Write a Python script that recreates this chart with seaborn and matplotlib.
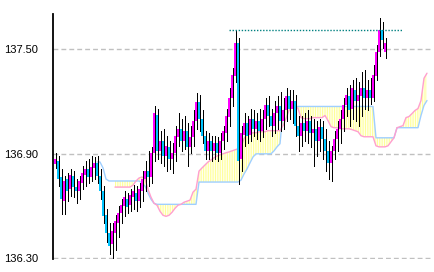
import numpy as np
import pandas as pd
import matplotlib
matplotlib.use("Agg")
import matplotlib.pyplot as plt
import seaborn as sns

# ---------------- data ----------------
opens = [136.842, 136.859, 136.767, 136.628, 136.755, 136.697, 136.772, 136.709, 136.686, 136.732,
         136.778, 136.813, 136.767, 136.819, 136.848, 136.772, 136.686, 136.547, 136.443, 136.385,
         136.443, 136.501, 136.558, 136.599, 136.639, 136.605, 136.651, 136.674, 136.628, 136.686,
         136.755, 136.801, 136.767, 136.906, 137.125, 136.917, 136.975, 136.888, 136.940, 136.871,
         136.906, 136.998, 137.044, 136.975, 137.033, 136.940, 136.998, 137.091, 137.195, 137.102,
         137.004, 136.917, 136.975, 136.917, 136.963, 136.906, 136.975, 137.021, 137.114, 137.218,
         137.345, 137.536, 136.871, 137.010, 137.079, 137.010, 137.102, 137.044, 137.091, 137.033,
         137.102, 137.183, 137.120, 137.062, 137.137, 137.172, 137.091, 137.149, 137.230, 137.160,
         137.206, 137.062, 137.004, 137.079, 137.033, 137.091, 137.021, 137.044, 136.975, 137.056,
         136.987, 136.917, 136.848, 136.917, 136.987, 137.044, 137.102, 137.178, 137.230, 137.160,
         137.264, 137.206, 137.230, 137.276, 137.218, 137.264, 137.218, 137.345, 137.484, 137.611,
         137.484]
highs = [136.906, 136.888, 136.813, 136.772, 136.790, 136.813, 136.801, 136.755, 136.772, 136.830,
         136.859, 136.871, 136.888, 136.882, 136.888, 136.813, 136.715, 136.582, 136.501, 136.501,
         136.547, 136.599, 136.639, 136.686, 136.674, 136.697, 136.720, 136.715, 136.732, 136.801,
         136.859, 136.917, 136.940, 137.172, 137.160, 137.033, 137.044, 137.004, 136.975, 136.963,
         137.062, 137.137, 137.102, 137.120, 137.079, 137.062, 137.149, 137.247, 137.235, 137.149,
         137.033, 137.021, 137.004, 137.004, 136.998, 137.021, 137.062, 137.160, 137.276, 137.392,
         137.611, 137.565, 137.062, 137.137, 137.120, 137.160, 137.149, 137.137, 137.160, 137.149,
         137.218, 137.230, 137.160, 137.206, 137.230, 137.253, 137.218, 137.276, 137.264, 137.264,
         137.235, 137.120, 137.120, 137.137, 137.149, 137.120, 137.102, 137.091, 137.102, 137.091,
         137.044, 136.975, 136.946, 137.033, 137.091, 137.149, 137.218, 137.276, 137.293, 137.322,
         137.334, 137.311, 137.368, 137.380, 137.322, 137.334, 137.409, 137.525, 137.681, 137.658,
         137.565]
lows = [136.819, 136.715, 136.553, 136.553, 136.628, 136.657, 136.651, 136.616, 136.639, 136.697,
        136.715, 136.732, 136.744, 136.755, 136.732, 136.639, 136.501, 136.396, 136.327, 136.304,
        136.350, 136.425, 136.501, 136.541, 136.558, 136.570, 136.582, 136.570, 136.593, 136.628,
        136.686, 136.715, 136.732, 136.859, 136.871, 136.848, 136.830, 136.801, 136.813, 136.790,
        136.859, 136.946, 136.917, 136.929, 136.830, 136.906, 136.946, 137.044, 137.033, 136.963,
        136.871, 136.871, 136.859, 136.871, 136.859, 136.871, 136.929, 136.975, 137.062, 137.172,
        137.311, 136.726, 136.801, 136.946, 136.963, 136.975, 137.004, 136.987, 136.975, 136.998,
        137.044, 137.062, 137.004, 137.021, 137.044, 137.033, 137.044, 137.091, 137.102, 137.079,
        137.004, 136.917, 136.946, 136.975, 136.963, 136.940, 136.830, 136.888, 136.917, 136.871,
        136.801, 136.755, 136.744, 136.871, 136.917, 136.963, 137.033, 137.120, 137.062, 137.102,
        137.091, 137.062, 137.120, 137.160, 137.149, 137.189, 137.206, 137.322, 137.461, 137.507,
        137.449]
closes = [136.871, 136.755, 136.639, 136.744, 136.686, 136.778, 136.709, 136.686, 136.744, 136.790,
          136.813, 136.767, 136.825, 136.848, 136.772, 136.686, 136.541, 136.443, 136.373, 136.454,
          136.512, 136.558, 136.605, 136.651, 136.593, 136.663, 136.686, 136.628, 136.697, 136.755,
          136.801, 136.767, 136.906, 137.137, 136.917, 136.975, 136.888, 136.946, 136.871, 136.906,
          137.004, 137.044, 136.975, 137.033, 136.940, 136.998, 137.091, 137.195, 137.102, 137.004,
          136.917, 136.975, 136.917, 136.963, 136.906, 136.975, 137.033, 137.120, 137.218, 137.351,
          137.536, 136.859, 137.021, 137.079, 137.004, 137.102, 137.044, 137.091, 137.033, 137.102,
          137.183, 137.120, 137.062, 137.137, 137.172, 137.091, 137.149, 137.230, 137.160, 137.206,
          137.062, 137.004, 137.079, 137.033, 137.091, 137.021, 137.044, 136.975, 137.056, 136.987,
          136.917, 136.848, 136.917, 136.987, 137.044, 137.102, 137.178, 137.235, 137.149, 137.276,
          137.206, 137.235, 137.276, 137.218, 137.264, 137.218, 137.351, 137.484, 137.611, 137.554,
          137.536]

nan = np.nan
span_blue = ([nan] * 14 +
             [136.853, 136.853, 136.819, 136.755] + [136.744] * 11 +
             [136.732, 136.715, 136.674, 136.639, 136.616] + [136.610] * 14 +
             [136.738] * 14 +
             [136.749, 136.784, 136.813, 136.848, 136.882] + [136.900] * 6 +
             [136.917, 136.940, 136.958, 137.137] + [137.172] * 30 +
             [136.992] * 7 + [137.050] * 8 +
             [137.120, 137.178, 137.206])
span_pink = ([nan] * 20 +
             [136.709] * 6 +
             [136.720, 136.744, 136.761, 136.767, 136.755, 136.697, 136.651, 136.616, 136.605, 136.570,
              136.547, 136.541, 136.547, 136.564, 136.587, 136.605, 136.610, 136.622, 136.628, 136.634,
              136.680, 136.697, 136.801, 136.819, 136.836, 136.853, 136.865, 136.877, 136.888, 136.894,
              136.900, 136.906, 136.911, 136.917, 136.923, 136.929, 136.940, 136.987, 137.010, 137.015,
              137.021, 137.021, 137.027, 137.027, 137.027, 137.033, 137.033, 137.033, 137.033, 137.033,
              137.062, 137.102, 137.149, 137.172, 137.178, 137.160, 137.108, 137.102, 137.102, 137.102,
              137.108, 137.108, 137.108, 137.108, 137.120, 137.091, 137.056, 137.050, 137.050, 137.044,
              137.044, 137.044, 137.044, 137.039, 137.033, 137.027, 137.004, 136.998, 136.998, 136.998,
              136.998, 136.946, 136.940, 136.940, 136.940, 136.946, 136.969, 136.992, 137.050, 137.056,
              137.062, 137.108, 137.114, 137.131, 137.149, 137.160, 137.206, 137.334, 137.363])

recent_high = 137.611
recent_high_from, recent_high_to = 58, 115.7

ytick_values = [136.30, 136.90, 137.50]
ytick_labels = ["136.30", "136.90", "137.50"]

# ---------------- figure ----------------
sns.set_style("white")
plt.rcParams['font.family'] = ['Liberation Sans', 'DejaVu Sans']
plt.rcParams['hatch.linewidth'] = 0.8

fig = plt.figure(figsize=(4.34, 2.72), dpi=100)
ax = fig.add_axes([53 / 434, 13 / 272, 379 / 434, 245 / 272])

n = len(opens)
xi = np.arange(n)
o = np.array(opens); c = np.array(closes); h = np.array(highs); l = np.array(lows)

# cloud
m = max(len(span_blue), len(span_pink))
xs = np.arange(m)
sa = np.array(span_pink, dtype=float)
sb = np.array(span_blue, dtype=float)
ok = np.isfinite(sa) & np.isfinite(sb)
ax.fill_between(xs, sa, sb, where=ok, facecolor='#fffff0', edgecolor='#ffff99',
                hatch='|' * 7, linewidth=0, zorder=1, interpolate=True)
df_span = pd.DataFrame({'x': xs, 'blue': sb, 'pink': sa})
sns.lineplot(data=df_span, x='x', y='blue', color='#9fcfff', lw=1.0, ax=ax,
             estimator=None, sort=False, zorder=2)
sns.lineplot(data=df_span, x='x', y='pink', color='#ff9fcf', lw=1.0, ax=ax,
             estimator=None, sort=False, zorder=2)

# candles
ax.vlines(xi + 0.17, l, h, color='black', lw=0.55, zorder=3, antialiased=False)
up = c >= o
body = c - o
body = np.where(np.abs(body) < 0.005, np.where(up, 0.005, -0.005), body)
ax.bar(xi[up], body[up], bottom=o[up], width=0.66, color='#ff00ff', linewidth=0,
       zorder=4, antialiased=False)
ax.bar(xi[~up], body[~up], bottom=o[~up], width=0.66, color='#00c4ff', linewidth=0,
       zorder=4, antialiased=False)

# recent high marker
ax.hlines(recent_high, recent_high_from, recent_high_to, color='#008080', lw=1.0,
          linestyles=(0, (1, 1.2)), zorder=5)

# axes styling
ax.set_xlim(-0.67, 125.67)
ax.set_ylim(136.296, 137.703)
ax.set_yticks(ytick_values)
ax.set_yticklabels(ytick_labels)
ax.set_xticks([])
for t in ytick_values:
    ax.axhline(t, color='#c0c0c0', lw=1.0, dashes=(3.5, 2.2), zorder=0)
ax.tick_params(axis='y', direction='in', length=3, width=1, color='black', pad=10.5,
               labelsize=8, labelcolor='black')
for s in ['top', 'right', 'bottom']:
    ax.spines[s].set_visible(False)
ax.spines['left'].set_color('black')
ax.spines['left'].set_linewidth(1.3)
ax.set_xlabel('')
ax.set_ylabel('')
ax.grid(False)

fig.savefig('out.png', dpi=100)
